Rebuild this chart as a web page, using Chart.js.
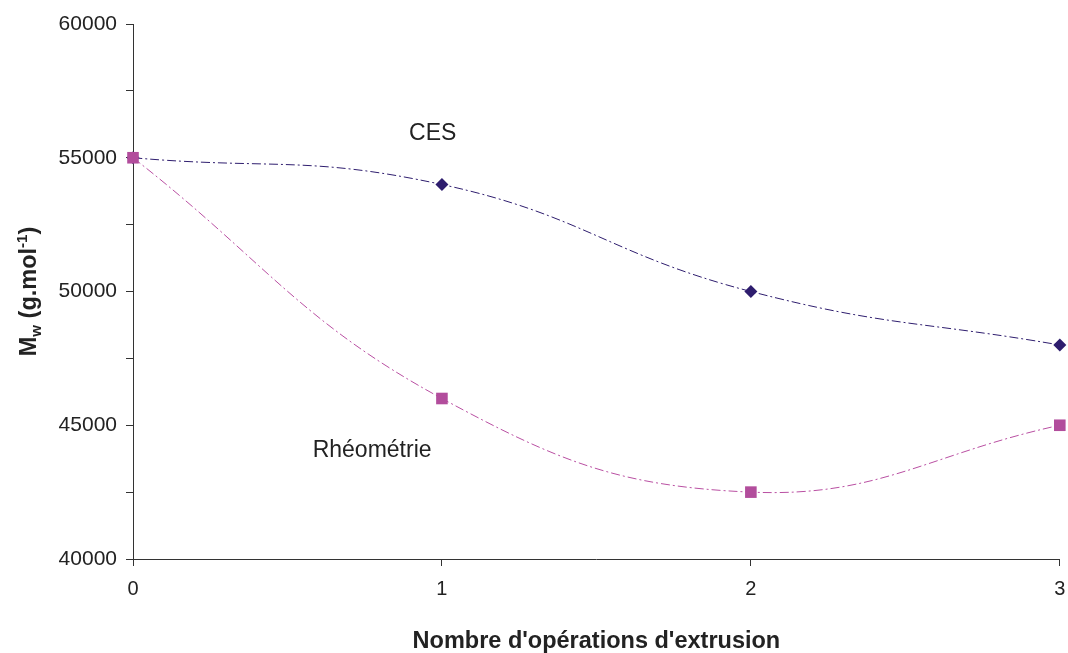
<!DOCTYPE html>
<html>
<head>
<meta charset="utf-8">
<script src="https://cdn.jsdelivr.net/npm/chart.js@4.4.0/dist/chart.umd.min.js"></script>
<style>
html,body{margin:0;padding:0;background:#fff;}
#wrap{width:1068px;height:653px;position:relative;}
</style>
</head>
<body>
<div id="wrap"><canvas id="c" width="1068" height="653"></canvas></div>
<script>
const categories = [0, 1, 2, 3];
const cesValues = [55000, 54000, 50000, 48000];
const rheoValues = [55000, 46000, 42500, 45000];
const yTickLabels = [40000, 45000, 50000, 55000, 60000];
const xTickLabels = [0, 1, 2, 3];
const seriesLabels = ['CES', 'Rhéométrie'];
const labelPositions = [[0.97, 55900], [0.774, 44050]];

const FONT = '"Liberation Sans", Arial, sans-serif';

const annot = {
  id: 'annot',
  afterDraw(chart) {
    const ctx = chart.ctx;
    const xs = chart.scales.x, ys = chart.scales.y;
    ctx.save();
    ctx.fillStyle = '#222';
    ctx.font = '23px ' + FONT;
    ctx.textAlign = 'center';
    ctx.textBaseline = 'middle';
    seriesLabels.forEach((t, i) => {
      ctx.fillText(t, xs.getPixelForValue(labelPositions[i][0]), ys.getPixelForValue(labelPositions[i][1]));
    });
    // x title
    ctx.font = 'bold 23.5px ' + FONT;
    ctx.textBaseline = 'alphabetic';
    ctx.fillText("Nombre d'opérations d'extrusion", (chart.chartArea.left + chart.chartArea.right) / 2, 648);
    // y title with sub/superscript
    ctx.translate(36, (chart.chartArea.top + chart.chartArea.bottom) / 2);
    ctx.rotate(-Math.PI / 2);
    const parts = [
      {t: 'M', f: 'bold 23.5px ', dy: 0},
      {t: 'w', f: 'bold 15px ', dy: 5},
      {t: ' (g.mol', f: 'bold 23.5px ', dy: 0},
      {t: '-1', f: 'bold 15px ', dy: -9},
      {t: ')', f: 'bold 23.5px ', dy: 0}
    ];
    let total = 0;
    parts.forEach(p => { ctx.font = p.f + FONT; p.w = ctx.measureText(p.t).width; total += p.w; });
    let x = -total / 2;
    ctx.textAlign = 'left';
    parts.forEach(p => { ctx.font = p.f + FONT; ctx.fillText(p.t, x, p.dy); x += p.w; });
    ctx.restore();
  }
};

const dash = [9, 3, 2, 3];
new Chart(document.getElementById('c'), {
  type: 'line',
  data: {
    datasets: [
      {
        label: seriesLabels[0],
        data: categories.map((c, i) => ({x: c, y: cesValues[i]})),
        borderColor: '#2E1D6E',
        backgroundColor: '#2E1D6E',
        borderWidth: 1,
        borderDash: dash,
        tension: 0.45,
        pointStyle: 'rectRot',
        pointRadius: 6.5,
        pointBorderWidth: 0,
        fill: false,
        order: 2
      },
      {
        label: seriesLabels[1],
        data: categories.map((c, i) => ({x: c, y: rheoValues[i]})),
        borderColor: '#B94FA2',
        backgroundColor: '#B24D9C',
        borderWidth: 1,
        borderDash: dash,
        tension: 0.42,
        pointStyle: 'rect',
        pointRadius: 8.2,
        pointBorderWidth: 0,
        fill: false,
        order: 1
      }
    ]
  },
  options: {
    responsive: false,
    animation: false,
    clip: false,
    layout: {padding: {top: 24, right: 3, bottom: 0, left: 0}},
    plugins: {legend: {display: false}, tooltip: {enabled: false}},
    scales: {
      x: {
        type: 'linear',
        min: xTickLabels[0],
        max: xTickLabels[xTickLabels.length - 1],
        afterFit(s) { s.height = 94; s.paddingLeft = 0; s.paddingRight = 0; },
        afterBuildTicks(s) { s.ticks = xTickLabels.map(v => ({value: v})); },
        ticks: {color: '#222', font: {size: 20, family: FONT}, padding: 11, maxRotation: 0},
        grid: {drawOnChartArea: false, drawTicks: true, tickLength: 7, color: '#333', tickColor: '#333'},
        border: {display: true, color: '#333', width: 1}
      },
      y: {
        type: 'linear',
        min: yTickLabels[0],
        max: yTickLabels[yTickLabels.length - 1],
        afterFit(s) { s.width = 133; s.paddingTop = 0; s.paddingBottom = 0; },
        ticks: {
          stepSize: 2500,
          color: '#222', font: {size: 21, family: FONT}, padding: 9,
          callback: v => yTickLabels.includes(v) ? String(v) : ''
        },
        grid: {drawOnChartArea: false, drawTicks: true, tickLength: 7, color: '#333', tickColor: '#333'},
        border: {display: true, color: '#333', width: 1}
      }
    }
  },
  plugins: [annot]
});
</script>
</body>
</html>
